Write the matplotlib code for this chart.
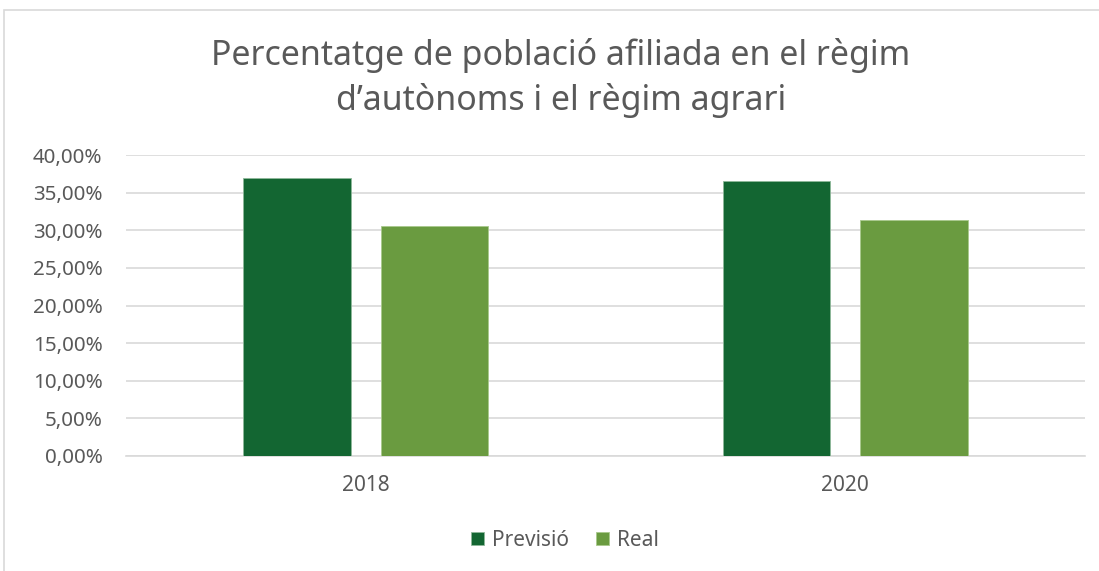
import matplotlib
matplotlib.use("Agg")
import matplotlib.pyplot as plt
from matplotlib.patches import Rectangle
from matplotlib.ticker import FuncFormatter, MultipleLocator
import numpy as np

categories = ["2018", "2020"]
series_names = ["Previsió", "Real"]
previsio = [36.9, 36.5]
real = [30.6, 31.4]
colors = ["#136632", "#6A9B40"]
title = "Percentatge de població afiliada en el règim\nd’autònoms i el règim agrari"

plt.rcParams['font.family'] = ['Noto Sans', 'DejaVu Sans']
text_color = "#595959"

fig = plt.figure(figsize=(10.99, 5.71), dpi=100)
fig.patches.append(Rectangle((4/1099, -0.1), 1.2, (561+57)/571, transform=fig.transFigure,
                             fill=False, edgecolor="#D9D9D9", linewidth=1.2, zorder=0))
ax = fig.add_axes([126/1099, 1-456/571, (1085-126)/1099, (456-155)/571])

x = np.arange(len(categories))
w = 0.224
off = 0.143
ax.bar(x - off, previsio, w, color=colors[0], edgecolor="#8FB89A", linewidth=0.6, label=series_names[0], zorder=3)
ax.bar(x + off, real, w, color=colors[1], edgecolor="#A9C98C", linewidth=0.6, label=series_names[1], zorder=3)

ax.set_xlim(-0.5, 1.5)
ax.set_ylim(0, 40)
ax.yaxis.set_major_locator(MultipleLocator(5))
ax.yaxis.set_major_formatter(FuncFormatter(lambda v, p: f"{v:.2f}".replace(".", ",") + "%"))
ax.set_xticks(x)
ax.set_xticklabels(categories)
ax.grid(axis="y", color="#D9D9D9", linewidth=1.2, zorder=0)
for s in ["top", "right", "left"]:
    ax.spines[s].set_visible(False)
ax.spines["bottom"].set_color("#D9D9D9")
ax.spines["bottom"].set_linewidth(1.2)
ax.tick_params(axis="both", length=0, colors=text_color)
ax.tick_params(axis="y", labelsize=14.8, pad=17)
ax.tick_params(axis="x", labelsize=15, pad=14)

fig.text(561/1099, 1-78/571, title, ha="center", va="center", fontsize=24.4,
         color=text_color, linespacing=1.35)

leg = ax.legend(loc="center", bbox_to_anchor=(565/1099, 1-540/571), bbox_transform=fig.transFigure,
                ncol=2, frameon=False, fontsize=15, handlelength=0.6, handleheight=0.6,
                handletextpad=0.4, columnspacing=1.3, labelcolor=text_color)

fig.savefig("out.png", dpi=100)
